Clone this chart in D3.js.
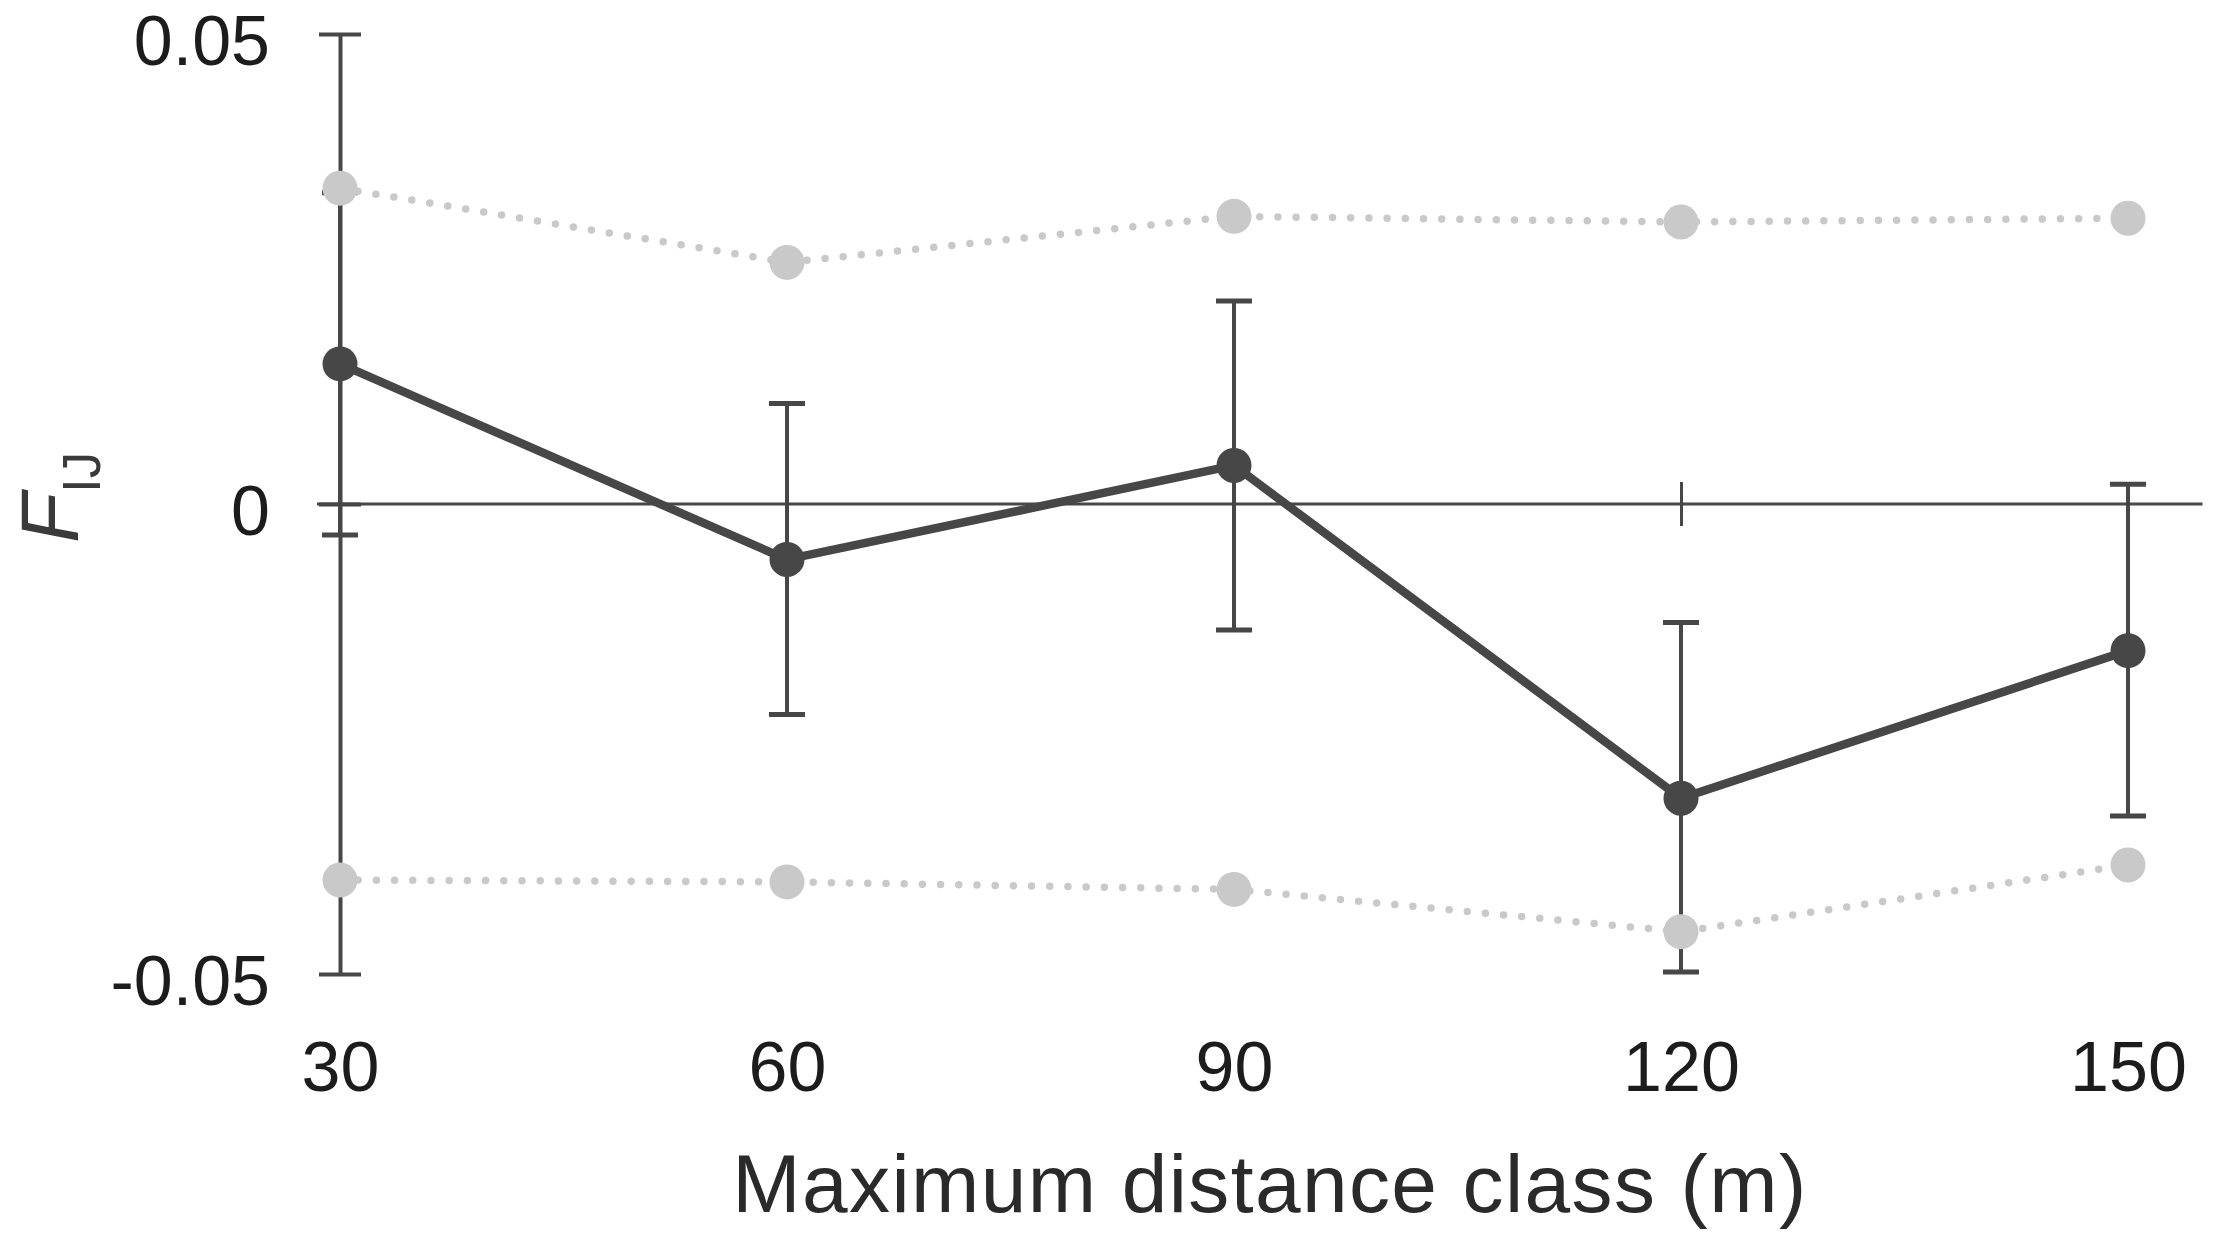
<!DOCTYPE html>
<html>
<head>
<meta charset="utf-8">
<script src="https://cdn.jsdelivr.net/npm/d3@7/dist/d3.min.js"></script>
<style>
  html, body { margin: 0; padding: 0; background: #ffffff; }
  svg { display: block; }
  text { font-family: "Liberation Sans", Arial, Helvetica, sans-serif; }
</style>
</head>
<body>
<svg id="chart" width="2217" height="1245"></svg>
<script>
// ---- data ----
const categories = [30, 60, 90, 120, 150];
const fij        = [0.0149, -0.0059, 0.0041, -0.0313, -0.0156];
const errLower   = [-0.0033, -0.0224, -0.0134, -0.0498, -0.0332];
const errUpper   = [0.0331, 0.0107, 0.0216, -0.0126, 0.0021];
const upperCI    = [0.0336, 0.0257, 0.0306, 0.0300, 0.0304];
const lowerCI    = [-0.0400, -0.0402, -0.0410, -0.0455, -0.0384];
const yTicks     = [-0.05, 0, 0.05];
const xTitle = "Maximum distance class (m)";

// ---- layout ----
const svg = d3.select("#chart");
const x = d3.scaleLinear().domain([30, 150]).range([340, 2128]);
const y = d3.scaleLinear().domain([-0.05, 0.05]).range([974, 34]);

const dark = "#474747";
const grey = "#c9c9c9";
const textCol = "#1c1c1c";

// zero line (x axis)
svg.append("line")
  .attr("x1", x(30) - 23).attr("x2", x(155))
  .attr("y1", y(0)).attr("y2", y(0))
  .attr("stroke", dark).attr("stroke-width", 3);

// x axis ticks crossing zero line
const xAxis = svg.append("g")
  .attr("transform", `translate(0,${y(0)})`)
  .call(d3.axisBottom(x).tickValues(categories.slice(1)).tickSize(22).tickFormat(""));
xAxis.select(".domain").remove();
xAxis.selectAll(".tick line")
  .attr("y1", -22).attr("y2", 22)
  .attr("stroke", dark).attr("stroke-width", 3);

// x tick labels
const xLab = svg.append("g")
  .attr("transform", `translate(0,1091)`)
  .call(d3.axisBottom(x).tickValues(categories).tickSize(0).tickPadding(0).tickFormat(d3.format("d")));
xLab.select(".domain").remove();
xLab.selectAll(".tick text")
  .attr("y", 0).attr("dy", 0)
  .attr("font-size", 70)
  .attr("font-family", "'Liberation Sans', Arial, sans-serif")
  .attr("fill", textCol);

// y axis
const yAxis = svg.append("g")
  .attr("transform", `translate(${x(30)},0)`)
  .call(d3.axisLeft(y).tickValues(yTicks).tickSizeOuter(0).tickSizeInner(21)
        .tickFormat(d => d === 0 ? "0" : String(d)));
yAxis.select(".domain").attr("stroke", dark).attr("stroke-width", 4);
yAxis.selectAll(".tick line")
  .attr("x1", -21).attr("x2", 21)
  .attr("stroke", dark).attr("stroke-width", 4);
yAxis.selectAll(".tick text")
  .attr("x", -70).attr("dy", 30)
  .attr("font-size", 70)
  .attr("font-family", "'Liberation Sans', Arial, sans-serif")
  .attr("fill", textCol);

// error bars
const eb = svg.append("g").attr("stroke", dark).attr("stroke-width", 4).attr("fill", "none");
categories.forEach((c, i) => {
  eb.append("line").attr("x1", x(c)).attr("x2", x(c)).attr("y1", y(errLower[i])).attr("y2", y(errUpper[i]));
  eb.append("line").attr("x1", x(c) - 18).attr("x2", x(c) + 18).attr("y1", y(errLower[i])).attr("y2", y(errLower[i])).attr("stroke-width", 5);
  eb.append("line").attr("x1", x(c) - 18).attr("x2", x(c) + 18).attr("y1", y(errUpper[i])).attr("y2", y(errUpper[i])).attr("stroke-width", 5);
});

// main line + points
const line = d3.line().x(d => x(d[0])).y(d => y(d[1]));
svg.append("path")
  .datum(categories.map((c, i) => [c, fij[i]]))
  .attr("d", line)
  .attr("fill", "none").attr("stroke", dark).attr("stroke-width", 8.5).attr("stroke-linejoin", "round");
svg.append("g").selectAll("circle")
  .data(categories.map((c, i) => [c, fij[i]]))
  .join("circle")
  .attr("cx", d => x(d[0])).attr("cy", d => y(d[1])).attr("r", 17.5)
  .attr("fill", dark);

// confidence envelope (grey dotted)
[upperCI, lowerCI].forEach(ser => {
  const pts = categories.map((c, i) => [c, ser[i]]);
  svg.append("path")
    .datum(pts)
    .attr("d", line)
    .attr("fill", "none").attr("stroke", grey).attr("stroke-width", 7.5)
    .attr("stroke-linecap", "round").attr("stroke-dasharray", "0 18.2");
  svg.append("g").selectAll("circle")
    .data(pts)
    .join("circle")
    .attr("cx", d => x(d[0])).attr("cy", d => y(d[1])).attr("r", 17.5)
    .attr("fill", grey);
});

// y axis title
const yt = svg.append("text")
  .attr("transform", `translate(78,543) rotate(-90)`)
  .attr("fill", "#3a3a3a");
yt.append("tspan").attr("font-size", 82).attr("font-style", "italic").text("F");
yt.append("tspan").attr("font-size", 53).attr("dy", 22).text("IJ");

// x axis title
svg.append("text")
  .attr("x", 1270).attr("y", 1212)
  .attr("text-anchor", "middle")
  .attr("font-size", 82)
  .attr("letter-spacing", 1.4)
  .attr("fill", "#2a2a2a")
  .text(xTitle);
</script>
</body>
</html>
